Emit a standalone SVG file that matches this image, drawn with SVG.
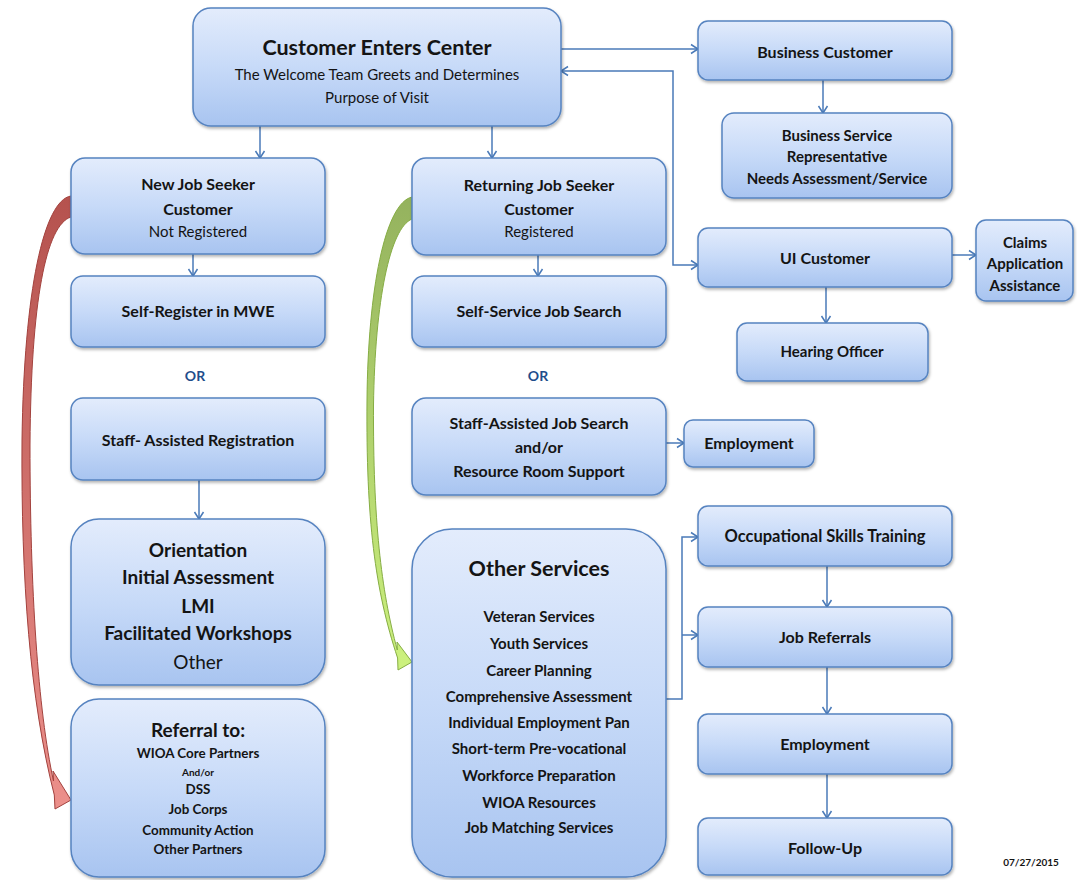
<svg xmlns="http://www.w3.org/2000/svg" width="1077" height="880" viewBox="0 0 1077 880">
  <defs>
    <linearGradient id="boxFill" x1="0" y1="0" x2="0" y2="1">
      <stop offset="0" stop-color="#e3ecfc"/>
      <stop offset="0.5" stop-color="#c7daf8"/>
      <stop offset="1" stop-color="#a8c4f0"/>
    </linearGradient>
    <linearGradient id="redFill" gradientUnits="userSpaceOnUse" x1="0" y1="196" x2="0" y2="810">
      <stop offset="0" stop-color="#b5524e"/>
      <stop offset="1" stop-color="#ec908b"/>
    </linearGradient>
    <linearGradient id="greenFill" gradientUnits="userSpaceOnUse" x1="0" y1="196" x2="0" y2="672">
      <stop offset="0" stop-color="#94b25e"/>
      <stop offset="1" stop-color="#cdf27e"/>
    </linearGradient>
    <filter id="shadow" x="-10%" y="-10%" width="125%" height="130%">
      <feDropShadow dx="1" dy="2" stdDeviation="1.5" flood-color="#000" flood-opacity="0.3"/>
    </filter>
    <marker id="arrow" markerUnits="userSpaceOnUse" markerWidth="12" markerHeight="12" refX="9" refY="6" orient="auto-start-reverse">
      <path d="M2,1.5 L9,6 L2,10.5" fill="none" stroke="#4a7ab8" stroke-width="1.5"/>
    </marker>
    <style>
      .box { fill: url(#boxFill); stroke: #5683c0; stroke-width: 1.5; filter: url(#shadow); }
      .conn { fill: none; stroke: #4a7ab8; stroke-width: 1.5; }
      .arr { marker-end: url(#arrow); }
      text { font-family: Lato, "Liberation Sans", sans-serif; fill: #141414; text-anchor: middle; }
      .b { font-weight: 700; }
      .s16 { font-size: 16px; }
      .s15 { font-size: 15px; }
      .or { font-size: 14px; font-weight: 700; fill: #1f4e8c; }
    </style>
  </defs>

  <rect width="1077" height="880" fill="#ffffff"/>

  <!-- curved referral arrows -->
  <g id="curved-arrows">
    <path d="M71,196 C44,200 24,290 22,440 C21,580 30,700 54.3,795 L55,809 L71,800 L53,771 L53.5,781 C38,710 30,590 30,445 C31,300 46,225 71,217 Z" fill="url(#redFill)" stroke="#a3423e" stroke-width="1"/>
    <path d="M412,197 C385,203 368,290 367,400 C366,520 375,590 397.6,658 L398,670 L412,662 L397,642 L397.3,650 C381,590 373,520 373.5,405 C375,300 390,228 412,219 Z" fill="url(#greenFill)" stroke="#86ad44" stroke-width="1"/>
  </g>

  <!-- connectors -->
  <g id="connectors">
    <line class="conn arr" x1="260" y1="126" x2="260" y2="158"/>
    <line class="conn arr" x1="492" y1="126" x2="492" y2="158"/>
    <line class="conn arr" x1="561" y1="49" x2="698" y2="49"/>
    <polyline class="conn" points="561,71 673,71 673,265 698,265" marker-start="url(#arrow)" marker-end="url(#arrow)"/>
    <line class="conn arr" x1="823" y1="80" x2="823" y2="113"/>
    <line class="conn arr" x1="952" y1="255" x2="976" y2="255"/>
    <line class="conn arr" x1="826" y1="287" x2="826" y2="323"/>
    <line class="conn arr" x1="193" y1="254" x2="193" y2="276"/>
    <line class="conn arr" x1="199" y1="480" x2="199" y2="519"/>
    <line class="conn arr" x1="538" y1="255" x2="538" y2="276"/>
    <line class="conn arr" x1="666" y1="443" x2="684" y2="443"/>
    <polyline class="conn arr" points="666,699 682,699 682,537 698,537"/>
    <line class="conn arr" x1="682" y1="635" x2="698" y2="635"/>
    <line class="conn arr" x1="827" y1="566" x2="827" y2="607"/>
    <line class="conn arr" x1="827" y1="667" x2="827" y2="714"/>
    <line class="conn arr" x1="827" y1="774" x2="827" y2="818"/>
  </g>

  <!-- top entry node -->
  <g id="n-enter">
    <rect class="box" x="193" y="8" width="368" height="118" rx="18"/>
    <text class="b" x="377" y="55" font-size="21.5">Customer Enters Center</text>
    <text x="377" y="80" font-size="15">The Welcome Team Greets and Determines</text>
    <text x="377" y="103" font-size="15">Purpose of Visit</text>
  </g>

  <!-- business track -->
  <g id="n-business">
    <rect class="box" x="698" y="21" width="254" height="59" rx="10"/>
    <text class="b s16" x="825" y="58">Business Customer</text>
  </g>
  <g id="n-bsr">
    <rect class="box" x="722" y="113" width="230" height="85" rx="12"/>
    <text class="b s15" x="837" y="141">Business Service</text>
    <text class="b s15" x="837" y="162">Representative</text>
    <text class="b s15" x="837" y="184">Needs Assessment/Service</text>
  </g>

  <!-- UI track -->
  <g id="n-ui">
    <rect class="box" x="698" y="228" width="254" height="59" rx="10"/>
    <text class="b s16" x="825" y="264">UI Customer</text>
  </g>
  <g id="n-claims">
    <rect class="box" x="976" y="220" width="97" height="81" rx="10"/>
    <text class="b s15" x="1025" y="248">Claims</text>
    <text class="b s15" x="1025" y="269">Application</text>
    <text class="b s15" x="1025" y="291">Assistance</text>
  </g>
  <g id="n-hearing">
    <rect class="box" x="737" y="323" width="191" height="58" rx="10"/>
    <text class="b s15" x="832" y="357">Hearing Officer</text>
  </g>

  <!-- new job seeker column -->
  <g id="n-new">
    <rect class="box" x="71" y="158" width="254" height="96" rx="14"/>
    <text class="b s16" x="198" y="190">New Job Seeker</text>
    <text class="b s16" x="198" y="215">Customer</text>
    <text class="s15" x="198" y="237">Not Registered</text>
  </g>
  <g id="n-selfreg">
    <rect class="box" x="71" y="276" width="254" height="71" rx="12"/>
    <text class="b s16" x="198" y="317">Self-Register in MWE</text>
  </g>
  <text class="or" x="195" y="381">OR</text>
  <g id="n-staffreg">
    <rect class="box" x="71" y="398" width="254" height="82" rx="12"/>
    <text class="b s16" x="198" y="446">Staff- Assisted Registration</text>
  </g>
  <g id="n-orient">
    <rect class="box" x="71" y="519" width="254" height="166" rx="28"/>
    <text class="b" x="198" y="557" font-size="19">Orientation</text>
    <text class="b" x="198" y="584" font-size="19">Initial Assessment</text>
    <text class="b" x="198" y="613" font-size="19">LMI</text>
    <text class="b" x="198" y="640" font-size="19">Facilitated Workshops</text>
    <text x="198" y="669" font-size="19">Other</text>
  </g>
  <g id="n-referral">
    <rect class="box" x="71" y="699" width="254" height="178" rx="28"/>
    <text class="b" x="198" y="737" font-size="19">Referral to:</text>
    <text class="b" x="198" y="758" font-size="13.4">WIOA Core Partners</text>
    <text class="b" x="198" y="776" font-size="10">And/or</text>
    <text class="b" x="198" y="794" font-size="13.4">DSS</text>
    <text class="b" x="198" y="814" font-size="13.4">Job Corps</text>
    <text class="b" x="198" y="835" font-size="13.4">Community Action</text>
    <text class="b" x="198" y="854" font-size="13.4">Other Partners</text>
  </g>

  <!-- returning job seeker column -->
  <g id="n-return">
    <rect class="box" x="412" y="158" width="254" height="97" rx="14"/>
    <text class="b s16" x="539" y="191">Returning Job Seeker</text>
    <text class="b s16" x="539" y="215">Customer</text>
    <text class="s15" x="539" y="237">Registered</text>
  </g>
  <g id="n-selfsvc">
    <rect class="box" x="412" y="276" width="254" height="71" rx="12"/>
    <text class="b s16" x="539" y="317">Self-Service Job Search</text>
  </g>
  <text class="or" x="538" y="381">OR</text>
  <g id="n-staffjob">
    <rect class="box" x="412" y="398" width="254" height="97" rx="14"/>
    <text class="b s16" x="539" y="429">Staff-Assisted Job Search</text>
    <text class="b s16" x="539" y="453">and/or</text>
    <text class="b s16" x="539" y="477">Resource Room Support</text>
  </g>
  <g id="n-emp1">
    <rect class="box" x="684" y="420" width="130" height="47" rx="9"/>
    <text class="b s16" x="749" y="449">Employment</text>
  </g>
  <g id="n-other">
    <rect class="box" x="412" y="529" width="254" height="348" rx="40"/>
    <text class="b" x="539" y="576" font-size="21.5">Other Services</text>
    <text class="b" x="539" y="622" font-size="15">Veteran Services</text>
    <text class="b" x="539" y="649" font-size="15">Youth Services</text>
    <text class="b" x="539" y="676" font-size="15">Career Planning</text>
    <text class="b" x="539" y="702" font-size="15">Comprehensive Assessment</text>
    <text class="b" x="539" y="728" font-size="15">Individual Employment Pan</text>
    <text class="b" x="539" y="754" font-size="15">Short-term Pre-vocational</text>
    <text class="b" x="539" y="781" font-size="15">Workforce Preparation</text>
    <text class="b" x="539" y="808" font-size="15">WIOA Resources</text>
    <text class="b" x="539" y="833" font-size="15">Job Matching Services</text>
  </g>

  <!-- services track -->
  <g id="n-occ">
    <rect class="box" x="698" y="506" width="254" height="60" rx="10"/>
    <text class="b" x="825" y="542" font-size="16.5">Occupational Skills Training</text>
  </g>
  <g id="n-jobref">
    <rect class="box" x="698" y="607" width="254" height="60" rx="10"/>
    <text class="b s16" x="825" y="643">Job Referrals</text>
  </g>
  <g id="n-emp2">
    <rect class="box" x="698" y="714" width="254" height="60" rx="10"/>
    <text class="b s16" x="825" y="750">Employment</text>
  </g>
  <g id="n-follow">
    <rect class="box" x="698" y="818" width="254" height="57" rx="10"/>
    <text class="b s16" x="825" y="854">Follow-Up</text>
  </g>

  <text class="b" x="1031" y="866" font-size="10" fill="#333">07/27/2015</text>
</svg>
